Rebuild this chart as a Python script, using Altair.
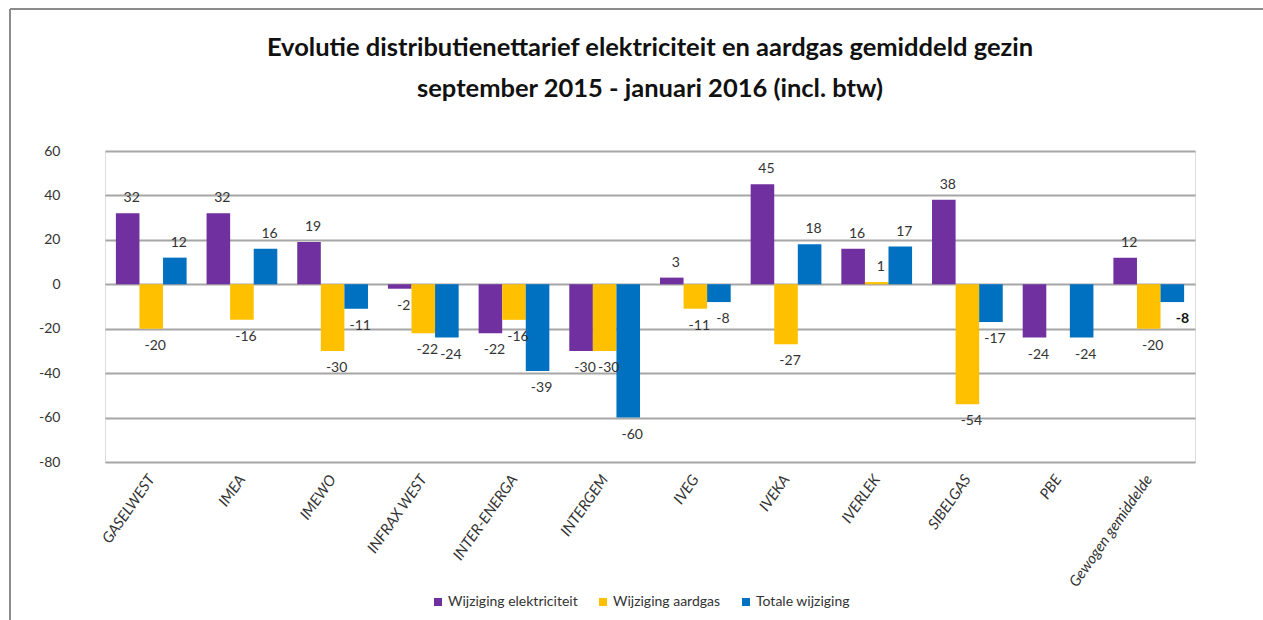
import altair as alt
import pandas as pd

categories = ["GASELWEST", "IMEA", "IMEWO", "INFRAX WEST", "INTER-ENERGA", "INTERGEM",
              "IVEG", "IVEKA", "IVERLEK", "SIBELGAS", "PBE", "Gewogen gemiddelde"]
series_names = ["Wijziging elektriciteit", "Wijziging aardgas", "Totale wijziging"]
elektriciteit = [32, 32, 19, -2, -22, -30, 3, 45, 16, 38, -24, 12]
aardgas = [-20, -16, -30, -22, -16, -30, -11, -27, 1, -54, None, -20]
totaal = [12, 16, -11, -24, -39, -60, -8, 18, 17, -17, -24, -8]
colors = ["#7030A0", "#FFC000", "#0070C0"]
y_ticks = [-80, -60, -40, -20, 0, 20, 40, 60]

rows = []
for s_idx, (name, vals) in enumerate(zip(series_names, [elektriciteit, aardgas, totaal])):
    for cat, v in zip(categories, vals):
        if v is None:
            continue
        rows.append({"cat": cat, "serie": name, "order": s_idx, "value": v,
                     "bold": cat == "Gewogen gemiddelde" and name == "Totale wijziging"})
df = pd.DataFrame(rows)

FONT = "Lato"
TXT = "#333333"

x_scale = alt.Scale(paddingInner=0.22, paddingOuter=0.12)
x_enc = alt.X("cat:N", sort=categories, title=None, scale=x_scale,
              axis=alt.Axis(labelAngle=-55, labelFontStyle="italic", labelFontSize=15,
                            labelFont=FONT, labelColor=TXT, domain=False,
                            ticks=False, labelPadding=14, labelAlign="right",
                            labelBaseline="middle"))
xoff = alt.XOffset("serie:N", sort=series_names,
                   scale=alt.Scale(paddingInner=0, paddingOuter=0))
y_scale = alt.Scale(domain=[-80, 60], nice=False)

bars = alt.Chart(df).mark_bar().encode(
    x=x_enc,
    xOffset=xoff,
    y=alt.Y("value:Q", scale=y_scale, title=None,
            axis=alt.Axis(values=y_ticks, grid=True, gridColor="#a6a6a6", gridWidth=2,
                          domain=False, ticks=False, labelFontSize=14, labelFont=FONT,
                          labelColor=TXT, labelPadding=45,
                          labelExpr="toString(datum.value)")),
    color=alt.Color("serie:N", sort=series_names,
                    scale=alt.Scale(domain=series_names, range=colors),
                    legend=alt.Legend(orient="none", legendX=326, legendY=444,
                                      direction="horizontal", title=None,
                                      symbolType="square", symbolSize=64, labelFontSize=14,
                                      labelFont=FONT, labelColor=TXT,
                                      columnPadding=18, labelOffset=3,
                                      symbolStrokeWidth=0)),
)

base_txt = alt.Chart(df).transform_calculate(label="toString(datum.value)")

pos_labels = base_txt.transform_filter("datum.value >= 0").mark_text(
    baseline="bottom", dy=-8, dx=4, fontSize=14, font=FONT, color=TXT
).encode(x=alt.X("cat:N", sort=categories, scale=x_scale), xOffset=xoff,
         y=alt.Y("value:Q", scale=y_scale), text="label:N")

neg_labels = base_txt.transform_filter("datum.value < 0 && !datum.bold").mark_text(
    baseline="top", dy=10, dx=4, fontSize=14, font=FONT, color=TXT
).encode(x=alt.X("cat:N", sort=categories, scale=x_scale), xOffset=xoff,
         y=alt.Y("value:Q", scale=y_scale), text="label:N")

bold_labels = base_txt.transform_filter("datum.bold").mark_text(
    baseline="top", dy=10, dx=10, fontSize=14, font=FONT, color="#111111", fontWeight="bold"
).encode(x=alt.X("cat:N", sort=categories, scale=x_scale), xOffset=xoff,
         y=alt.Y("value:Q", scale=y_scale), text="label:N")

frame_top = alt.Chart(df).mark_rule(color="#8c8c8c", strokeWidth=2).encode(
    x=alt.value(-95), x2=alt.value(1158), y=alt.value(-142))
frame_left = alt.Chart(df).mark_rule(color="#8c8c8c", strokeWidth=2).encode(
    x=alt.value(-95), y=alt.value(-142), y2=alt.value(469))

chart = alt.layer(bars, pos_labels, neg_labels, bold_labels, frame_top, frame_left).properties(
    width=1090, height=311,
    autosize=alt.AutoSizeParams(type="none"),
    padding={"left": 105, "top": 151, "right": 68, "bottom": 158},
    title=alt.TitleParams(
        ["Evolutie distributienettarief elektriciteit en aardgas gemiddeld gezin",
         "september 2015 - januari 2016 (incl. btw)"],
        fontSize=25.5, font=FONT, fontWeight="bold", color="#111111",
        anchor="middle", lineHeight=41, offset=-94),
).configure_view(stroke=None).configure(background="white")

chart.save("out.html", embed_options={"renderer": "svg", "actions": False})
